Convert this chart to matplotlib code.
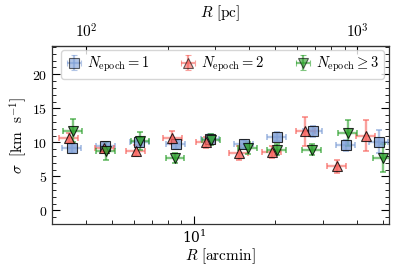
import numpy as np
import matplotlib
matplotlib.use("Agg")
import matplotlib.pyplot as plt
from matplotlib.ticker import FuncFormatter, MultipleLocator, NullFormatter, FixedLocator

plt.rcParams['mathtext.fontset'] = 'cm'
plt.rcParams['font.family'] = 'serif'
plt.rcParams['font.serif'] = ['DejaVu Serif']

# N_epoch = 1
r1 = [3.54, 4.72, 6.30, 8.60, 11.5, 15.3, 20.2, 27.5, 36.4, 48.2]
s1 = [9.15, 9.4, 10.1, 9.7, 10.5, 9.7, 10.85, 11.6, 9.6, 10.1]
e1 = [0.75, 0.7, 0.7, 0.7, 0.7, 0.7, 0.7, 0.8, 0.8, 1.7]
# N_epoch = 2
r2 = [3.46, 4.68, 6.10, 8.34, 11.1, 14.7, 19.4, 25.8, 33.6, 43.1]
s2 = [10.6, 9.2, 8.75, 10.7, 10.0, 8.4, 8.55, 11.6, 6.45, 11.0]
e2 = [0.7, 0.8, 0.8, 0.9, 0.8, 1.0, 0.9, 2.1, 0.9, 2.3]
# N_epoch >= 3
r3 = [3.58, 4.75, 6.35, 8.55, 11.6, 15.8, 20.3, 27.3, 36.9, 49.8]
s3 = [11.7, 8.75, 10.2, 7.7, 10.4, 9.15, 8.9, 8.9, 11.35, 7.7]
e3 = [1.7, 1.3, 1.3, 0.8, 0.8, 0.9, 0.8, 0.8, 1.9, 2.1]

labels = [r'$N_{\rm epoch}=1$', r'$N_{\rm epoch}=2$', r'$N_{\rm epoch}\geq 3$']
colors = ['#7f9fd6', '#f8625c', '#2ca02c']
markers = ['s', '^', 'v']
pc_major = [100, 1000]
pc_major_labels = [r'$10^{2}$', r'$10^{3}$']
pc_minor = [200, 300, 400, 500, 600, 700, 800, 900]
xfrac = 0.08

fig = plt.figure(figsize=(3.96, 2.73), dpi=100)
ax = fig.add_axes([0.1306, 0.1795, 0.8514, 0.6531])

for r, s, e, c, m, lab in zip([r1, r2, r3], [s1, s2, s3], [e1, e2, e3], colors, markers, labels):
    r = np.array(r); s = np.array(s); e = np.array(e)
    ax.errorbar(r, s, yerr=e, xerr=xfrac * r, fmt='none', ecolor=c,
                elinewidth=1.7, capsize=2.2, capthick=1.4, alpha=0.6, zorder=2)
    ax.plot(r, s, m, markersize=6.5, markerfacecolor=c, markeredgecolor='k',
            markeredgewidth=0.8, alpha=0.8, zorder=3)

handles = []
for c, m, lab in zip(colors, markers, labels):
    h = ax.errorbar([np.nan], [np.nan], yerr=[1], xerr=[1], fmt=m, color=c,
                    ecolor=c, elinewidth=1.6, capsize=2.2, capthick=1.4,
                    alpha=0.6, markersize=6.5, markeredgecolor='k', markeredgewidth=0.8,
                    label=lab)
    handles.append(h)

ax.set_xscale('log')
ax.set_xlim(2.99, 52.4)
ax.set_ylim(-2, 24.2)
ax.yaxis.set_major_locator(MultipleLocator(5))
ax.yaxis.set_minor_locator(MultipleLocator(1))
ax.yaxis.set_major_formatter(FuncFormatter(lambda v, p: r'$%d$' % v))
ax.xaxis.set_minor_formatter(NullFormatter())
ax.tick_params(which='both', direction='in', top=False, right=True, labelsize=10)
ax.tick_params(which='major', length=6, width=0.8)
ax.tick_params(which='minor', length=3, width=0.6)
for sp in ax.spines.values():
    sp.set_linewidth(0.9)
    sp.set_color('#333333')

ax.set_xlabel(r'$R\ [\mathrm{arcmin}]$', fontsize=11, labelpad=0)
ax.set_ylabel(r'$\sigma\ \ [\mathrm{km\ \ s^{-1}}]$', fontsize=11, labelpad=2)

pc_per_arcmin = 25.0
sec = ax.secondary_xaxis('top', functions=(lambda x: x * pc_per_arcmin,
                                           lambda x: x / pc_per_arcmin))
sec.set_xscale('log')
sec.set_xticks(pc_major, labels=pc_major_labels, fontsize=11)
sec.set_xticks(pc_minor, minor=True)
sec.xaxis.set_minor_formatter(NullFormatter())
sec.tick_params(which='both', direction='in')
sec.tick_params(which='major', length=6, width=0.8)
sec.tick_params(which='minor', length=3, width=0.6)
sec.set_xlabel(r'$R\ [\mathrm{pc}]$', fontsize=11, labelpad=4)

leg = ax.legend(handles=handles, loc='upper left', ncol=3, mode='expand',
                bbox_to_anchor=(0.018, 0.99, 0.975, 0.0), fontsize=10.5,
                handletextpad=0.3, borderaxespad=0.2, frameon=True,
                handlelength=1.2, borderpad=0.3)
leg.get_frame().set_edgecolor('#cccccc')

fig.savefig('out.png', dpi=100)
